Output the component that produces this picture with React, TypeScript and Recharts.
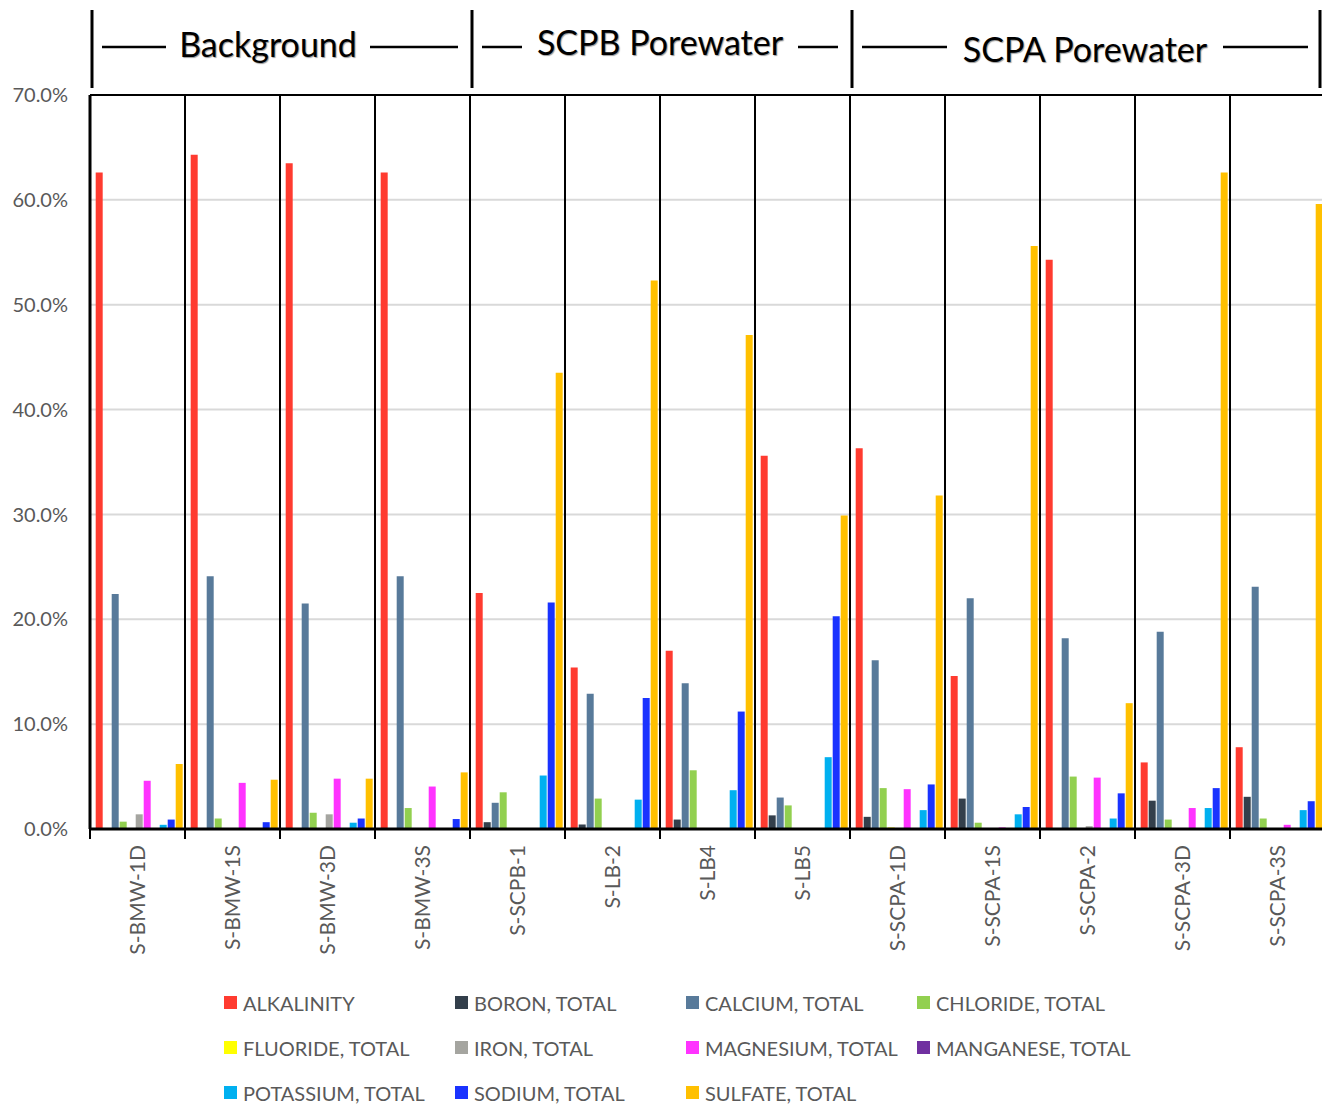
import React from 'react';
import { BarChart, Bar, XAxis, YAxis, CartesianGrid, ReferenceLine, Legend } from 'recharts';

const sites = [
  'S-BMW-1D', 'S-BMW-1S', 'S-BMW-3D', 'S-BMW-3S', 'S-SCPB-1', 'S-LB-2', 'S-LB4',
  'S-LB5', 'S-SCPA-1D', 'S-SCPA-1S', 'S-SCPA-2', 'S-SCPA-3D', 'S-SCPA-3S',
];

// percent of total ions
const alkalinity = [62.6, 64.3, 63.5, 62.6, 22.5, 15.4, 17.0, 35.6, 36.3, 14.6, 54.3, 6.35, 7.8];
const boron = [0, 0, 0, 0, 0.65, 0.43, 0.9, 1.3, 1.16, 2.9, 0, 2.7, 3.07];
const calcium = [22.4, 24.1, 21.5, 24.1, 2.5, 12.9, 13.9, 3.0, 16.1, 22.0, 18.2, 18.8, 23.1];
const chloride = [0.7, 1.0, 1.55, 2.0, 3.5, 2.9, 5.6, 2.25, 3.9, 0.6, 5.0, 0.9, 1.0];
const fluoride = [0.05, 0, 0, 0.05, 0.1, 0.1, 0.1, 0.05, 0.15, 0, 0, 0.05, 0];
const iron = [1.4, 0, 1.4, 0, 0, 0, 0, 0, 0.05, 0, 0.27, 0, 0];
const magnesium = [4.6, 4.4, 4.8, 4.05, 0, 0, 0, 0, 3.8, 0.15, 4.9, 2.0, 0.4];
const manganese = [0.05, 0.05, 0, 0, 0, 0, 0, 0, 0, 0, 0, 0, 0];
const potassium = [0.4, 0, 0.6, 0.05, 5.1, 2.8, 3.7, 6.85, 1.8, 1.4, 1.0, 2.0, 1.8];
const sodium = [0.9, 0.65, 1.0, 0.95, 21.6, 12.5, 11.2, 20.3, 4.25, 2.1, 3.4, 3.9, 2.65];
const sulfate = [6.2, 4.7, 4.8, 5.4, 43.5, 52.3, 47.1, 29.9, 31.8, 55.6, 12.0, 62.6, 59.6];

const yTicks = [0, 10, 20, 30, 40, 50, 60, 70];

// header groups; shift/dy nudge the label like the original hand-placed text
const groups = [
  { name: 'Background', first: 0, count: 4, shift: -12, dy: 0 },
  { name: 'SCPB Porewater', first: 4, count: 4, shift: 0, dy: -2 },
  { name: 'SCPA Porewater', first: 8, count: 5, shift: 0, dy: 5 },
];

const series = [
  { key: 'ALKALINITY', values: alkalinity, color: '#FF3B30' },
  { key: 'BORON, TOTAL', values: boron, color: '#333F4B' },
  { key: 'CALCIUM, TOTAL', values: calcium, color: '#587A9A' },
  { key: 'CHLORIDE, TOTAL', values: chloride, color: '#92D050' },
  { key: 'FLUORIDE, TOTAL', values: fluoride, color: '#FFFF00' },
  { key: 'IRON, TOTAL', values: iron, color: '#A5A5A0' },
  { key: 'MAGNESIUM, TOTAL', values: magnesium, color: '#FF33FF' },
  { key: 'MANGANESE, TOTAL', values: manganese, color: '#7030A0' },
  { key: 'POTASSIUM, TOTAL', values: potassium, color: '#00B0F0' },
  { key: 'SODIUM, TOTAL', values: sodium, color: '#1A33FF' },
  { key: 'SULFATE, TOTAL', values: sulfate, color: '#FFC000' },
];

const data = sites.map((site, i) => {
  const row: Record<string, string | number> = { site };
  series.forEach((s) => { row[s.key] = s.values[i]; });
  return row;
});

const W = 1325;
const H = 1104;
const LEFT = 90;
const TOP = 95;
const BOTTOM = 829;
const FONT = 'Lato, "Open Sans", sans-serif';
const textGray = '#595959';

const XTick = (props: any) => {
  const { x, y, payload } = props;
  return (
    <g transform={`translate(${x},${y + 14})`}>
      <text transform="rotate(-90)" textAnchor="end" dy="0.35em" fill={textGray} fontSize={21} fontFamily={FONT}>
        {payload.value}
      </text>
    </g>
  );
};

const LegendBox = () => (
  <div style={{ display: 'grid', gridTemplateColumns: 'repeat(4, 231px)', paddingLeft: 224, fontFamily: FONT }}>
    {series.map((s) => (
      <div key={s.key} style={{ display: 'flex', alignItems: 'center', height: 45, color: textGray, fontSize: 20, whiteSpace: 'nowrap' }}>
        <span style={{ width: 13, height: 13, background: s.color, marginRight: 6, display: 'inline-block', flex: 'none' }} />
        {s.key}
      </div>
    ))}
  </div>
);

// group header above the plot, plus the little separator stubs under the axis
const Overlay = () => {
  const band = (W - LEFT) / sites.length;
  return (
    <svg width={1322} height={H} style={{ position: 'absolute', left: 0, top: 0, pointerEvents: 'none' }}>
      {sites.map((_, i) => (
        <line key={i} x1={LEFT + (i + 1) * band} x2={LEFT + (i + 1) * band} y1={BOTTOM} y2={839} stroke="#000" strokeWidth={2} />
      ))}
      <line x1={LEFT} x2={LEFT} y1={BOTTOM} y2={839} stroke="#000" strokeWidth={2} />
      {groups.map((g, gi) => {
        const x0 = LEFT + g.first * band;
        const x1 = Math.min(LEFT + (g.first + g.count) * band, 1320);
        const cx = (x0 + x1) / 2 + g.shift;
        const halfText = g.name.length * 9.0;
        return (
          <g key={g.name}>
            <line x1={x0 + 2} x2={x0 + 2} y1={10} y2={88} stroke="#000" strokeWidth={3} />
            {gi === groups.length - 1 && <line x1={x1} x2={x1} y1={10} y2={88} stroke="#000" strokeWidth={3} />}
            <line x1={x0 + 12} x2={cx - halfText - 12} y1={47} y2={47} stroke="#000" strokeWidth={2.5} />
            <line x1={cx + halfText + 12} x2={x1 - 12} y1={47} y2={47} stroke="#000" strokeWidth={2.5} />
            <text x={cx} y={57 + g.dy} textAnchor="middle" fontSize={34} fontFamily={FONT} fill="#000"
              style={{ textShadow: '1px 1px 1px #999' }}>
              {g.name}
            </text>
          </g>
        );
      })}
    </svg>
  );
};

export default function App() {
  return (
    <div style={{ position: 'absolute', left: 0, top: 0, width: 1322, height: H, overflow: 'hidden', background: '#fff' }}>
      <BarChart
        width={W}
        height={H}
        data={data}
        margin={{ top: TOP, right: 0, left: 0, bottom: 0 }}
        barCategoryGap="6%"
        barGap={1}
        style={{ fontFamily: FONT }}
      >
        <CartesianGrid vertical={false} stroke="#D9D9D9" strokeWidth={2} />
        <CartesianGrid
          horizontal={false}
          stroke="#000"
          strokeWidth={2}
          verticalCoordinatesGenerator={({ offset }: any) =>
            sites.map((_, i) => offset.left + ((i + 1) * offset.width) / sites.length)
          }
        />
        <XAxis
          dataKey="site"
          interval={0}
          height={H - BOTTOM}
          tick={<XTick />}
          tickLine={false}
          tickSize={0}
          axisLine={{ stroke: '#000', strokeWidth: 3 }}
        />
        <YAxis
          width={LEFT}
          domain={[0, 70]}
          ticks={yTicks}
          tickFormatter={(v: number) => `${v.toFixed(1)}%`}
          tick={{ fill: textGray, fontSize: 20 }}
          tickLine={false}
          tickSize={0}
          tickMargin={22}
          axisLine={{ stroke: '#000', strokeWidth: 3 }}
          allowDataOverflow
        />
        <ReferenceLine y={70} stroke="#000" strokeWidth={2} />
        {series.map((s) => (
          <Bar key={s.key} dataKey={s.key} fill={s.color} isAnimationActive={false} />
        ))}
        <Legend
          layout="horizontal"
          verticalAlign="middle"
          align="center"
          content={<LegendBox />}
          wrapperStyle={{ position: 'absolute', top: 980, left: 0, width: 1322, height: 135 }}
        />
      </BarChart>
      <Overlay />
    </div>
  );
}
